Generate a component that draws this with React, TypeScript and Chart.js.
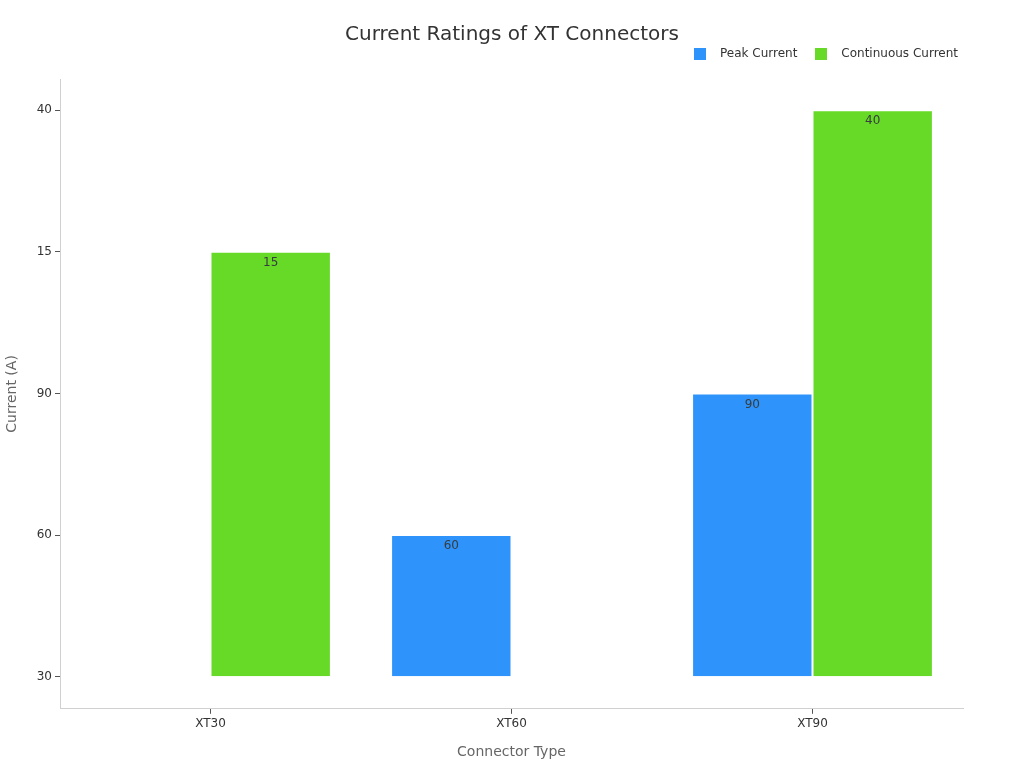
import { useEffect, useRef } from "react";
import { Chart, registerables } from "chart.js";

Chart.register(...registerables);

const connectors = ["XT30", "XT60", "XT90"];
// the y axis is a set of ordered labels, bottom to top
const yLabels = ["30", "60", "90", "15", "40"];
const peakCurrent = [null, 60, 90];
const continuousCurrent = [15, null, 40];

const FONT = "'DejaVu Sans', sans-serif";

const toIndex = (v: number | null) => (v === null ? null : yLabels.indexOf(String(v)));

function swatch(color: string) {
  const c = document.createElement("canvas");
  c.width = 12;
  c.height = 12;
  const ctx = c.getContext("2d")!;
  ctx.fillStyle = color;
  ctx.fillRect(0, 0, 12, 12);
  return c;
}

// value text just inside the top of each bar
const valueLabels = {
  id: "valueLabels",
  afterDatasetsDraw(chart: any) {
    const ctx = chart.ctx;
    ctx.save();
    ctx.font = `12px ${FONT}`;
    ctx.fillStyle = "#373d3f";
    ctx.textAlign = "center";
    ctx.textBaseline = "middle";
    chart.data.datasets.forEach((ds: any, i: number) => {
      const meta = chart.getDatasetMeta(i);
      meta.data.forEach((bar: any, j: number) => {
        const raw = ds.rawValues[j];
        if (raw === null) return;
        ctx.fillText(String(raw), bar.x, bar.y + 11);
      });
    });
    ctx.restore();
  },
};

// title centred on the whole canvas, legend nudged up/right like the original
const placeBoxes = {
  id: "placeBoxes",
  afterLayout(chart: any) {
    if (chart.titleBlock) {
      chart.titleBlock.left = 0;
      chart.titleBlock.right = chart.width;
    }
    if (chart.legend) {
      chart.legend.right += 5;
      chart.legend.left += 5;
      chart.legend.top -= 9;
      chart.legend.bottom -= 9;
    }
  },
};

export default function App() {
  const ref = useRef<HTMLCanvasElement>(null);

  useEffect(() => {
    if (!ref.current) return;
    const colors = ["#2E93FA", "#66DA26"];
    const chart = new Chart(ref.current, {
      type: "bar",
      data: {
        labels: connectors,
        datasets: [
          {
            label: "Peak Current",
            data: peakCurrent.map(toIndex),
            rawValues: peakCurrent,
            backgroundColor: colors[0],
            borderColor: "rgba(255,255,255,0.6)",
            borderWidth: 1,
          } as any,
          {
            label: "Continuous Current",
            data: continuousCurrent.map(toIndex),
            rawValues: continuousCurrent,
            backgroundColor: colors[1],
            borderColor: "rgba(255,255,255,0.6)",
            borderWidth: 1,
          } as any,
        ],
      },
      options: {
        animation: false,
        responsive: true,
        maintainAspectRatio: false,
        layout: { padding: { left: 0, right: 61, top: 0, bottom: 0 } },
        datasets: { bar: { barPercentage: 1, categoryPercentage: 0.8 } },
        plugins: {
          title: {
            display: true,
            text: "Current Ratings of XT Connectors",
            color: "#333",
            font: { family: FONT, size: 20, weight: "normal" },
            padding: { top: 23, bottom: 0 },
          },
          legend: {
            position: "top",
            align: "end",
            labels: {
              color: "#333",
              font: { family: FONT, size: 12 },
              usePointStyle: true,
              pointStyleWidth: 28,
              boxHeight: 12,
              padding: 10,
              generateLabels: (c: any) => {
                const items = Chart.defaults.plugins.legend.labels.generateLabels(c);
                return items.map((it: any, i: number) => ({ ...it, pointStyle: swatch(colors[i]) }));
              },
            },
          },
          tooltip: { enabled: false },
        },
        scales: {
          x: {
            border: { color: "#d0d0d0" },
            grid: { display: true, drawOnChartArea: false, offset: false, tickLength: 5, color: "#555" },
            ticks: { color: "#333", font: { family: FONT, size: 12 }, padding: 3 },
            title: {
              display: true,
              text: "Connector Type",
              color: "#666",
              font: { family: FONT, size: 14 },
              padding: { top: 10, bottom: 7 },
            },
          },
          y: {
            type: "linear",
            min: -0.2265,
            max: 4.22,
            afterBuildTicks: (axis: any) => {
              axis.ticks = yLabels.map((_, i) => ({ value: i }));
            },
            afterFit: (axis: any) => {
              axis.width = 60;
            },
            border: { color: "#d0d0d0" },
            grid: { display: true, drawOnChartArea: false, tickLength: 5, color: "#555" },
            ticks: {
              color: "#333",
              font: { family: FONT, size: 12 },
              padding: 3,
              callback: (v: any) => yLabels[v as number],
            },
            title: {
              display: true,
              text: "Current (A)",
              color: "#666",
              font: { family: FONT, size: 14 },
              padding: { top: 4, bottom: 4 },
            },
          },
        },
      },
      plugins: [valueLabels, placeBoxes],
    });
    return () => {
      chart.destroy();
    };
  }, [ref]);

  return (
    <div style={{ position: "fixed", left: 0, top: 0, width: 1024, height: 768, background: "#fff" }}>
      <canvas ref={ref} />
    </div>
  );
}
